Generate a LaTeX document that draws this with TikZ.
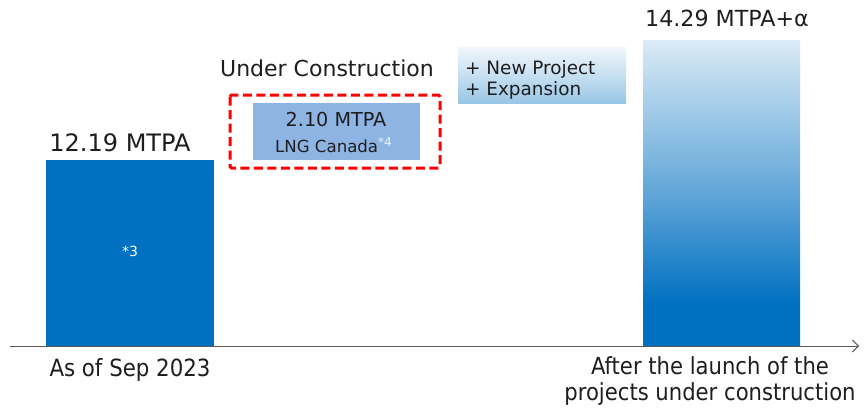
\documentclass[tikz,border=0pt]{standalone}
\usepackage{fontspec}
\setmainfont{DejaVu Sans}
\newfontfamily\condfont{DejaVu Sans Condensed}
\usetikzlibrary{arrows.meta}
\definecolor{barblue}{HTML}{0070C0}
\definecolor{lightbox}{HTML}{8EB4E3}
\definecolor{txt}{HTML}{1E1E1E}
\definecolor{axisgray}{HTML}{595959}
% shape maps onto 25bp (bottom) .. 75bp (top)
\pgfdeclareverticalshading{barshade}{100bp}{
  color(0bp)=(barblue); color(32bp)=(barblue); color(50bp)=(barblue!62!white);
  color(68bp)=(barblue!28!white); color(75bp)=(barblue!14!white); color(100bp)=(barblue!14!white)}
\pgfdeclareverticalshading{boxshade}{100bp}{
  color(0bp)=(barblue!40!white); color(25bp)=(barblue!40!white); color(50bp)=(barblue!22!white);
  color(75bp)=(barblue!6!white); color(100bp)=(barblue!6!white)}
\tikzset{
  lbl/.style={text=txt, inner sep=0pt, anchor=base},
  fs/.style={font=\fontsize{#1}{#1}\selectfont},
}
\begin{document}
\begin{tikzpicture}[x=1pt,y=-1pt]
\useasboundingbox (0,0) rectangle (864,407);
% left bar
\fill[barblue] (46,160) rectangle (214,346);
\node[text=white, inner sep=0pt, anchor=base, fs=14] (n3) at (130,256) {*3};
\node[lbl, fs=24] (v1) at (120,151) {12.19 MTPA};
% right bar
\shade[shading=barshade] (643,40) rectangle (800,346);
\node[lbl, fs=22.2] (v2) at (727,26) {14.29 MTPA+α};
% under construction
\node[lbl, fs=22] (uc) at (327,76) {Under Construction};
\draw[red, line width=3pt, dash pattern=on 9pt off 4.5pt, rounded corners=1.5pt] (230,95) rectangle (440,168);
\fill[lightbox] (253,103) rectangle (420,160);
\node[lbl, fs=19.2] (v3) at (336,126) {2.10 MTPA};
\node[lbl, fs=16.6, anchor=base west] (lng) at (275,152) {LNG Canada\textcolor{white!85!lightbox}{\raisebox{6pt}{\fontsize{12}{12}\selectfont *4}}};
% new project box
\shade[shading=boxshade] (458,47) rectangle (626,103);
\node[lbl, fs=18.4, anchor=base west] (np) at (465,74) {+ New Project};
\node[lbl, fs=18.4, anchor=base west] (ex) at (465,95) {+ Expansion};
% axis
\coordinate (ax0) at (10,346);
\coordinate (ax1) at (859,346);
\draw[axisgray, line width=1pt, -{Straight Barb[length=6pt,width=12pt]}] (ax0) -- (ax1);
% axis labels
\node[lbl, font=\condfont\fontsize{23.7}{23.7}\selectfont] (l1) at (130,376) {As of Sep 2023};
\node[text=txt, inner sep=0pt, anchor=base, align=center, font=\condfont\fontsize{23.5}{26}\selectfont] (l2) at (710,400) {After the launch of the\\projects under construction};
\end{tikzpicture}
\end{document}
